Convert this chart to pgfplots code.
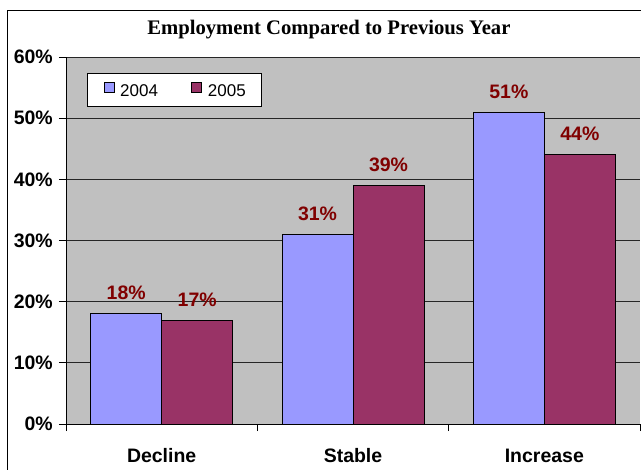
\documentclass[border=0pt]{standalone}
\usepackage{pgfplots}
\pgfplotsset{compat=1.18}
\usepackage{fontspec}
\setmainfont{Liberation Sans}
\newfontfamily\titlefont{Liberation Serif}
\definecolor{bA}{HTML}{9999FF}
\definecolor{bB}{HTML}{993366}
\definecolor{bg}{HTML}{C0C0C0}
\definecolor{lab}{HTML}{800000}
\begin{document}
\begin{tikzpicture}
\path[use as bounding box] (-49.5pt,-33.75pt) rectangle (431.25pt,318pt);
\draw[black, line width=0.75pt] (-43.5pt,-40pt) -- (-43.5pt,310.5pt) -- (440pt,310.5pt);
\begin{axis}[
  scale only axis, width=430.5pt, height=275.25pt,
  xmin=-0.5, xmax=2.5, ymin=0, ymax=60,
  axis background/.style={fill=bg},
  axis x line*=bottom, axis y line*=left,
  axis line style={black, line width=0.75pt},
  ybar=0pt, bar width=53.25pt,
  xtick={0,1,2}, xticklabels={Decline,Stable,Increase},
  major x tick style={draw=none},
  minor xtick={-0.5,0.5,1.5,2.5},
  minor tick length=5.25pt, major tick length=5.25pt,
  tick align=outside,
  tick style={black, line width=0.75pt},
  ytick={0,10,...,60},
  yticklabel={\pgfmathprintnumber{\tick}\%},
  ymajorgrids, grid style={black!85, line width=0.75pt},
  /pgf/number format/assume math mode=true,
  ticklabel style={font=\fontsize{14.6}{17}\selectfont\bfseries},
  yticklabel style={anchor=east, inner sep=0pt, xshift=-4.5pt},
  xticklabel style={anchor=north, inner sep=0pt, yshift=-13pt},
  title={\titlefont\bfseries\fontsize{15.5}{18}\selectfont Employment Compared to Previous Year},
  title style={at={(axis description cs:0.458,1.0409)}, anchor=base, inner sep=0pt},
  nodes near coords={\pgfmathprintnumber{\pgfplotspointmeta}\%},
  nodes near coords style={font=\fontsize{14.6}{17}\selectfont\bfseries, text=lab, anchor=south, inner sep=0pt, yshift=10pt},
  legend image code/.code={\draw[#1, line width=0.5pt] (0pt,-0.5pt) rectangle (7.5pt,7pt);},
  legend columns=2,
  legend style={at={(axis description cs:0.0366,0.9564)}, anchor=north west,
    draw=black, fill=white, line width=0.75pt,
    font=\fontsize{12.75}{15}\selectfont,
    nodes={inner sep=0pt},
    inner xsep=12pt, inner ysep=6pt,
    /tikz/every odd column/.append style={column sep=4.5pt},
    /tikz/every even column/.append style={column sep=25pt}},
]
\addplot[fill=bA, draw=black, line width=0.75pt] coordinates {(0,18) (1,31) (2,51)};
\addplot[fill=bB, draw=black, line width=0.75pt] coordinates {(0,17) (1,39) (2,44)};
\legend{2004,2005}
\end{axis}
\end{tikzpicture}
\end{document}
